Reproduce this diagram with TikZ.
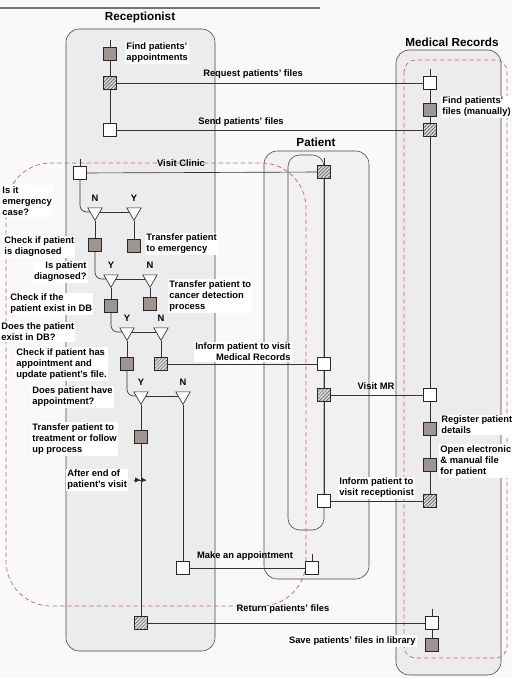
\documentclass[tikz,border=0pt]{standalone}
\usepackage{fontspec}
\setmainfont{Liberation Sans}
\usepackage{xcolor}
\usetikzlibrary{shapes.geometric,patterns}

\definecolor{fngray}{RGB}{158,148,144}
\definecolor{dashred}{RGB}{212,98,98}

\begin{document}
\begin{tikzpicture}[x=0.3mm, y=-0.3mm, font=\bfseries\fontsize{8}{9.5}\selectfont,
  lane/.style={draw=gray!55!black, fill=gray!15, rounded corners=4mm, line width=0.5pt},
  zone/.style={draw=dashred, dash pattern=on 1.3mm off 0.9mm, line width=0.6pt},
  box/.style={draw=black!85, line width=0.55pt, minimum size=3.9mm, inner sep=0pt},
  fn/.style={box, fill=fngray},
  ev/.style={box, fill=white},
  msg/.style={box, preaction={fill=gray!30}, pattern=north east lines, pattern color=black!70},
  dec/.style={draw=black!85, fill=white, line width=0.55pt, regular polygon,
              regular polygon sides=3, shape border rotate=180, minimum size=5mm, inner sep=0pt},
  lbl/.style={fill=white, inner sep=1pt, align=left},
  yn/.style={inner sep=0pt},
  lanetitle/.style={font=\bfseries\fontsize{10}{12}\selectfont},
  ln/.style={line width=0.55pt, black!80}]

\useasboundingbox[fill=gray!5] (0,0) rectangle (512,678);
\draw[line width=0.4mm, black!55] (0,8) -- (320,8);

% swimlanes
\draw[lane] (66,29) rectangle (215,651);
\draw[lane] (396,50) rectangle (501,675);
\draw[lane, fill=gray!11] (264,151) rectangle (369,579);
\draw[lane, fill=gray!11, rounded corners=3.5mm] (288,155) rectangle (324,530);
\node[lanetitle] (trec) at (140,17)  {Receptionist};
\node[lanetitle] (tpat) at (316,142) {Patient};
\node[lanetitle] (tmr)  at (452,42)  {Medical Records};

\draw[zone, rounded corners=13.5mm] (6,163) rectangle (306,606);
\draw[zone, rounded corners=3.5mm] (404,60) rectangle (507,658);

% receptionist: files
\node[fn]  (findapp) at (110,54)  {};
\node[msg] (reqf)    at (110,83)  {};
\node[ev]  (sendf)   at (110,130) {};

% receptionist: visit
\node[ev]  (clinic)  at (80,173)  {};
\node[dec] (d1n)     at (95,212)  {};
\node[dec] (d1y)     at (134,212) {};
\node[fn]  (diag)    at (95,245)  {};
\node[fn]  (emerg)   at (134,246) {};
\node[dec] (d2y)     at (111,279) {};
\node[dec] (d2n)     at (150,279) {};
\node[fn]  (existdb) at (111,306) {};
\node[fn]  (cancer)  at (150,304) {};
\node[dec] (d3y)     at (127,332) {};
\node[dec] (d3n)     at (161,332) {};
\node[fn]  (appt)    at (127,364) {};
\node[msg] (infmr)   at (161,364) {};
\node[dec] (d4y)     at (141,396) {};
\node[dec] (d4n)     at (183,396) {};
\node[fn]  (treat)   at (141,437) {};
\coordinate (wait)   at (141,480);
\node[ev]  (mkapp)   at (183,568) {};
\node[msg] (retf)    at (141,623) {};

% patient
\node[msg] (pvisit)  at (324,172) {};
\node[ev]  (pinfmr)  at (324,364) {};
\node[msg] (pvmr)    at (324,395) {};
\node[ev]  (pinfrec) at (324,501) {};
\node[ev]  (pmkapp)  at (312,568) {};

% medical records
\node[ev]  (mrreq)   at (430,83)  {};
\node[fn]  (mrfind)  at (430,110) {};
\node[msg] (mrsend)  at (430,130) {};
\node[ev]  (mrvisit) at (430,395) {};
\node[fn]  (mrreg)   at (430,429) {};
\node[fn]  (mropen)  at (430,465) {};
\node[msg] (mrinf)   at (430,501) {};
\node[ev]  (mrret)   at (432,623) {};
\node[fn]  (mrsave)  at (432,645) {};

\foreach \d/\t in {d1n/N, d1y/Y, d2y/Y, d2n/N, d3y/Y, d3n/N, d4y/Y, d4n/N}
  \node[yn, anchor=south] (y\d) at ([yshift=1.6mm]\d.north) {\t};

% lifelines
\foreach \b in {findapp, clinic, pvisit, mrreq, mrret, pmkapp}
  \draw[ln] (\b.north) -- ++(0,-7);
\draw[ln] (findapp) -- (reqf) -- (sendf);
\draw[ln] (mrreq) -- (mrfind) -- (mrsend) -- (mrvisit) -- (mrreg) -- (mropen) -- (mrinf);
\draw[ln] (mrret) -- (mrsave);
\draw[ln] (pvisit) -- (pinfmr) -- (pvmr) -- (pinfrec);
\draw[ln, rounded corners=2mm] (clinic.south) |- (d1n.west);
\draw[ln, rounded corners=2mm] (diag.south) |- (d2y.west);
\draw[ln, rounded corners=2mm] (existdb.south) |- (d3y.west);
\draw[ln, rounded corners=2mm] (appt.south) |- (d4y.west);
\draw[ln] (d1n) -- (d1y);
\draw[ln] (d2y) -- (d2n);
\draw[ln] (d3y) -- (d3n);
\draw[ln] (d4y) -- (d4n);
\draw[ln] (d1n.south) -- (diag);
\draw[ln] (d1y.south) -- (emerg);
\draw[ln] (d2y.south) -- (existdb);
\draw[ln] (d2n.south) -- (cancer);
\draw[ln] (d3y.south) -- (appt);
\draw[ln] (d3n.south) -- (infmr);
\draw[ln] (d4y.south) -- (treat);
\draw[ln] (d4n.south) -- (mkapp);
\draw[ln] (treat) -- (retf);
\fill[black!85] (wait) +(-6,-2.6) -- +(-1,0) -- +(-6,2.6) -- cycle;
\fill[black!85] (wait) +(0,-2.6) -- +(5,0) -- +(0,2.6) -- cycle;
\draw[ln] (wait) +(-7,0) -- +(5,0);

% messages between lanes
\draw[ln] (reqf) -- (mrreq);
\draw[ln] (sendf) -- (mrsend);
\draw[ln] (clinic) -- (pvisit);
\draw[ln] (infmr) -- (pinfmr);
\draw[ln] (pvmr) -- (mrvisit);
\draw[ln] (mrinf) -- (pinfrec);
\draw[ln] (mkapp) -- (pmkapp);
\draw[ln] (retf) -- (mrret);

% labels
\node[lbl, anchor=west] (lfindapp) at (125,53)  {Find patients'\\appointments};
\node[yn] (lreqf)   at (253,74)  {Request patients' files};
\node[yn] (lsendf)  at (241,122) {Send patients' files};
\node[yn] (lclinic) at (181,163) {Visit Clinic};
\node[lbl, anchor=west] (lmrfind) at (441,107) {Find patients'\\files (manually)};
\node[lbl, anchor=west] (lq1) at (1,201) {Is it\\emergency\\case?};
\node[lbl, anchor=west] (lemerg) at (145,244) {Transfer patient\\to emergency};
\node[lbl, anchor=west] (ldiag) at (3,247) {Check if patient\\is diagnosed};
\node[lbl, anchor=east, align=right] (lq2) at (88,272) {Is patient\\diagnosed?};
\node[lbl, anchor=west] (lcancer) at (168,296) {Transfer patient to\\cancer detection\\process};
\node[lbl, anchor=west] (lexist) at (9,304) {Check if the\\patient exist in DB};
\node[lbl, anchor=west] (lq3) at (0,332) {Does the patient\\exist in DB?};
\node[lbl, anchor=east, align=right] (linfmr) at (292,352) {Inform patient to visit\\Medical Records};
\node[lbl, anchor=west] (lappt) at (15,364) {Check if patient has\\appointment and\\update patient's file.};
\node[lbl, anchor=west] (lq4) at (31,397) {Does patient have\\appointment?};
\node[lbl, anchor=west] (ltreat) at (31,439) {Transfer patient to\\treatment or follow\\up process};
\node[lbl, anchor=west] (lwait) at (66,480) {After end of\\patient's visit};
\node[yn] (lmkapp) at (245,556) {Make an appointment};
\node[yn] (lretf) at (283,609) {Return patients' files};
\node[lbl, anchor=east] (lsave) at (417,641) {Save patients' files in library};
\node[yn] (lvmr) at (376,386) {Visit MR};
\node[lbl, anchor=west] (lreg) at (440,425) {Register patient\\details};
\node[lbl, anchor=west] (lopen) at (439,461) {Open electronic\\\& manual file\\for patient};
\node[lbl, anchor=west] (linfrec) at (338,488) {Inform patient to\\visit receptionist};
\end{tikzpicture}
\end{document}
